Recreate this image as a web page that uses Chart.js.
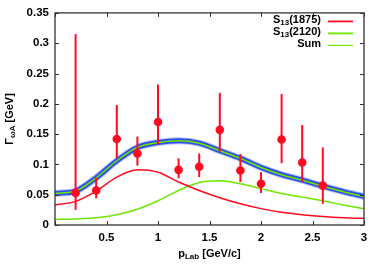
<!DOCTYPE html>
<html>
<head>
<meta charset="utf-8">
<script src="https://cdn.jsdelivr.net/npm/chart.js@4/dist/chart.umd.min.js"></script>
<style>
    html, body { margin: 0; padding: 0; background: #fff; }
    #wrap { width: 381px; height: 275px; }
</style>
</head>
<body>
<div id="wrap"><canvas id="chart" width="381" height="275"></canvas></div>
<script>
// measured points (p_Lab in GeV/c, width in GeV)
const pLab = [0.2, 0.4, 0.6, 0.8, 1.0, 1.2, 1.4, 1.6, 1.8, 2.0, 2.2, 2.4, 2.6];
const width = [0.053, 0.057, 0.142, 0.118, 0.170, 0.091, 0.096, 0.157, 0.090, 0.068, 0.141, 0.103, 0.065];
const errHigh = [0.315, 0.078, 0.198, 0.146, 0.232, 0.110, 0.118, 0.218, 0.117, 0.087, 0.216, 0.165, 0.128];
const errLow = [0.025, 0.044, 0.110, 0.098, 0.133, 0.077, 0.079, 0.121, 0.071, 0.053, 0.102, 0.071, 0.035];

// model curves
const pCurve = [0, 0.2, 0.4, 0.6, 0.8, 1.0, 1.2, 1.4, 1.6, 1.8, 2.0, 2.2, 2.4, 2.6, 2.8, 3.0];
const s1875 = [0.033, 0.039, 0.056, 0.079, 0.091, 0.087, 0.071, 0.057, 0.045, 0.035, 0.027, 0.021, 0.017, 0.014, 0.012, 0.011];
const s2120 = [0.009, 0.010, 0.012, 0.017, 0.026, 0.040, 0.057, 0.070, 0.073, 0.068, 0.060, 0.052, 0.046, 0.040, 0.033, 0.027];
const sum = [0.052, 0.056, 0.078, 0.106, 0.128, 0.136, 0.139, 0.135, 0.1225, 0.110, 0.095, 0.083, 0.074, 0.064, 0.055, 0.047];

// tick labels (no label at x = 0 in the original)
const xTicks = [0, 0.5, 1, 1.5, 2, 2.5, 3];
const xTickLabels = ['', '0.5', '1', '1.5', '2', '2.5', '3'];
const yTicks = [0, 0.05, 0.1, 0.15, 0.2, 0.25, 0.3, 0.35];
const yTickLabels = ['0', '0.05', '0.1', '0.15', '0.2', '0.25', '0.3', '0.35'];

const RED = '#ff0a1e';
const GREEN = '#6ee600';
const BLUE = '#2f4fe8';
const FONT = '"Liberation Sans", Arial, sans-serif';

const toXY = (xs, ys) => xs.map((x, i) => ({ x: x, y: ys[i] }));

// error bars under the red points
const errorBars = {
    id: 'errorBars',
    beforeDatasetDraw(chart, args) {
        if (args.index !== 0) return;
        const ctx = chart.ctx;
        const xs = chart.scales.x, ys = chart.scales.y;
        ctx.save();
        ctx.strokeStyle = RED;
        ctx.lineWidth = 2;
        pLab.forEach((p, i) => {
            const px = xs.getPixelForValue(p);
            ctx.beginPath();
            ctx.moveTo(px, ys.getPixelForValue(errLow[i]));
            ctx.lineTo(px, ys.getPixelForValue(errHigh[i]));
            ctx.stroke();
        });
        ctx.restore();
    }
};

// text with a lowered small part: parts = [[text, isSub], ...]
function drawParts(ctx, parts, x, y, size, align) {
    const big = 'bold ' + size + 'px ' + FONT;
    const small = 'bold ' + Math.round(size * 0.7) + 'px ' + FONT;
    let total = 0;
    parts.forEach(p => { ctx.font = p[1] ? small : big; total += ctx.measureText(p[0]).width; });
    let cx = align === 'right' ? x - total : (align === 'center' ? x - total / 2 : x);
    ctx.textAlign = 'left';
    ctx.textBaseline = 'middle';
    parts.forEach(p => {
        ctx.font = p[1] ? small : big;
        ctx.fillText(p[0], cx, p[1] ? y + 3 : y);
        cx += ctx.measureText(p[0]).width;
    });
}

// frame, inside ticks, axis titles, legend
const decor = {
    id: 'decor',
    afterDraw(chart) {
        const ctx = chart.ctx;
        const a = chart.chartArea;
        const xs = chart.scales.x, ys = chart.scales.y;
        ctx.save();
        ctx.strokeStyle = '#333';
        ctx.lineWidth = 1.3;
        ctx.strokeRect(a.left, a.top, a.right - a.left, a.bottom - a.top);
        ctx.lineWidth = 1;
        ctx.beginPath();
        xTicks.forEach(t => {
            const px = Math.round(xs.getPixelForValue(t)) + 0.5;
            ctx.moveTo(px, a.bottom); ctx.lineTo(px, a.bottom - 4);
            ctx.moveTo(px, a.top); ctx.lineTo(px, a.top + 4);
        });
        yTicks.forEach(t => {
            const py = Math.round(ys.getPixelForValue(t)) + 0.5;
            ctx.moveTo(a.left, py); ctx.lineTo(a.left + 4, py);
            ctx.moveTo(a.right, py); ctx.lineTo(a.right - 4, py);
        });
        ctx.stroke();

        ctx.fillStyle = '#000';
        // x title
        drawParts(ctx, [['p', false], ['Lab', true], [' [GeV/c]', false]], (a.left + a.right) / 2, 254, 11, 'center');
        // y title
        ctx.save();
        ctx.translate(10, (a.top + a.bottom) / 2);
        ctx.rotate(-Math.PI / 2);
        drawParts(ctx, [['\u0393', false], ['\u03c9A', true], [' [GeV]', false]], 0, 0, 11, 'center');
        ctx.restore();

        // legend
        const rows = [
            [[['S', false], ['13', true], ['(1875)', false]], RED],
            [[['S', false], ['13', true], ['(2120)', false]], GREEN],
            [[['Sum', false]], GREEN]
        ];
        rows.forEach((r, i) => {
            const y = a.top + 8 + i * 12;
            ctx.fillStyle = '#000';
            drawParts(ctx, r[0], a.right - 43, y - 1, 11, 'right');
            ctx.strokeStyle = r[1];
            ctx.lineWidth = i === 2 ? 1.2 : 1.8;
            ctx.beginPath();
            ctx.moveTo(a.right - 36, y + 0.5);
            ctx.lineTo(a.right - 11, y + 0.5);
            ctx.stroke();
        });
        ctx.restore();
    }
};

const ctx = document.getElementById('chart').getContext('2d');
new Chart(ctx, {
    type: 'line',
    data: {
        datasets: [
            {
                label: 'data',
                data: toXY(pLab, width),
                showLine: false,
                pointRadius: 4.3,
                pointBackgroundColor: RED,
                pointBorderColor: RED,
                pointBorderWidth: 0,
                order: 0
            },
            {
                label: 'Sum',
                data: toXY(pCurve, sum),
                borderColor: GREEN,
                borderWidth: 1.5,
                pointRadius: 0,
                cubicInterpolationMode: 'monotone',
                order: 1
            },
            {
                label: 'Sum band',
                data: toXY(pCurve, sum),
                borderColor: BLUE,
                borderWidth: 5,
                pointRadius: 0,
                cubicInterpolationMode: 'monotone',
                order: 2
            },
            {
                label: 'Sum halo',
                data: toXY(pCurve, sum),
                borderColor: 'rgba(90,120,255,0.45)',
                borderWidth: 7,
                pointRadius: 0,
                cubicInterpolationMode: 'monotone',
                order: 3
            },
            {
                label: 'S13(1875)',
                data: toXY(pCurve, s1875),
                borderColor: RED,
                borderWidth: 1.5,
                pointRadius: 0,
                cubicInterpolationMode: 'monotone',
                order: 4
            },
            {
                label: 'S13(2120)',
                data: toXY(pCurve, s2120),
                borderColor: GREEN,
                borderWidth: 1.5,
                pointRadius: 0,
                cubicInterpolationMode: 'monotone',
                order: 5
            }
        ]
    },
    options: {
        responsive: false,
        animation: false,
        layout: { padding: { top: 11, right: 17, left: 0, bottom: 0 } },
        plugins: {
            legend: { display: false },
            tooltip: { enabled: false }
        },
        scales: {
            x: {
                type: 'linear',
                min: 0,
                max: 3,
                afterFit: scale => { scale.height = 50; },
                afterBuildTicks: scale => { scale.ticks = xTicks.map(v => ({ value: v })); },
                grid: { display: false, drawTicks: false },
                border: { display: false },
                ticks: {
                    padding: 6,
                    color: '#000',
                    font: { family: FONT, size: 11.5, weight: 'bold' },
                    callback: (v, i) => xTickLabels[i]
                }
            },
            y: {
                min: 0,
                max: 0.35,
                afterFit: scale => { scale.width = 55; },
                afterBuildTicks: scale => { scale.ticks = yTicks.map(v => ({ value: v })); },
                grid: { display: false, drawTicks: false },
                border: { display: false },
                ticks: {
                    padding: 6,
                    color: '#000',
                    font: { family: FONT, size: 11.5, weight: 'bold' },
                    callback: (v, i) => yTickLabels[i]
                }
            }
        }
    },
    plugins: [errorBars, decor]
});
</script>
</body>
</html>
